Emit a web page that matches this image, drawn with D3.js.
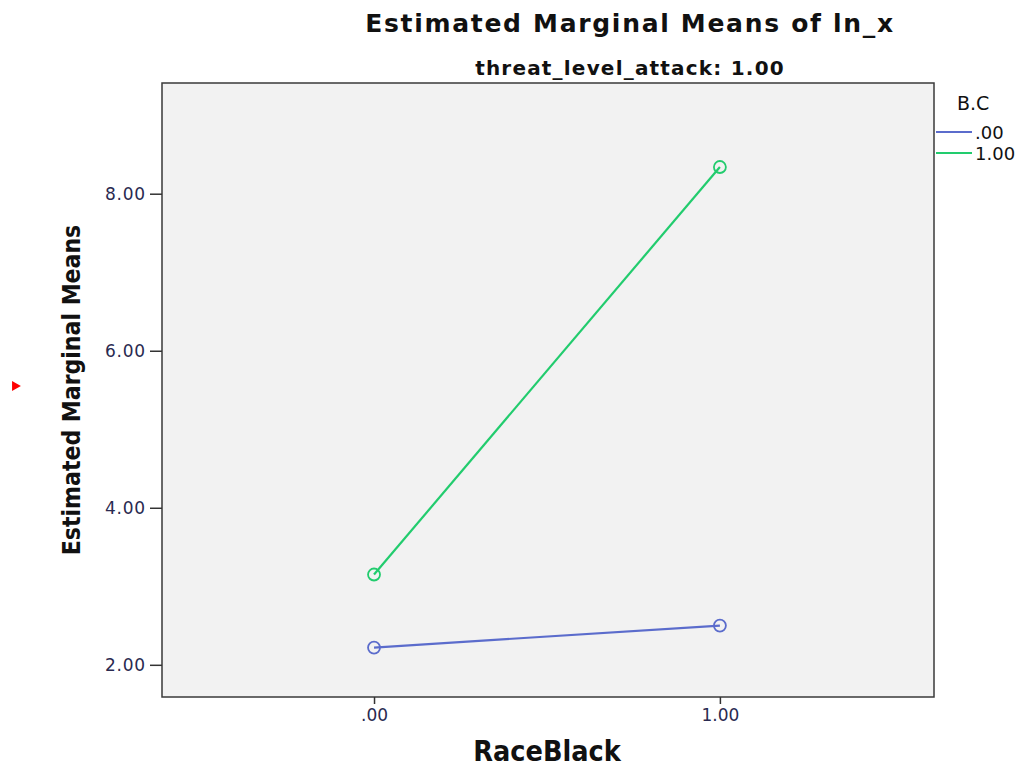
<!DOCTYPE html>
<html lang="en">
<head>
<meta charset="UTF-8">
<title>Estimated Marginal Means of ln_x</title>
<script src="https://d3js.org/d3.v7.min.js"></script>
<style>
  body { margin: 0; background: #fff; }
  .title { font-family: "DejaVu Sans", sans-serif; font-weight: bold; fill: #111; }
  .axlabel { font-family: "DejaVu Sans Condensed", "DejaVu Sans", sans-serif; font-weight: bold; fill: #111; }
  .tick text { font-family: "DejaVu Sans", sans-serif; font-size: 17px; fill: #2a2a50; letter-spacing: 0.8px; }
  .legend text { font-family: "DejaVu Sans", sans-serif; fill: #111; }
</style>
</head>
<body>
<script>
// data
var raceBlack = [0, 1];
var xTickLabels = [".00", "1.00"];
var yTicks = [2, 4, 6, 8];
var yTickLabels = ["2.00", "4.00", "6.00", "8.00"];
var groups = [".00", "1.00"];
var meansBC0 = [2.22, 2.50];
var meansBC1 = [3.15, 8.34];
var colors = ["#5b6ccc", "#22cc6e"];

var width = 1028, height = 767;
var plot = { left: 162, right: 934, top: 83, bottom: 697 };

var svg = d3.select("body").append("svg")
    .attr("width", width)
    .attr("height", height);

var x = d3.scaleLinear().domain([-0.613, 1.619]).range([plot.left, plot.right]);
var y = d3.scaleLinear().domain([1.59, 9.41]).range([plot.bottom, plot.top]);

// plot background
svg.append("rect")
    .attr("x", plot.left).attr("y", plot.top)
    .attr("width", plot.right - plot.left).attr("height", plot.bottom - plot.top)
    .attr("fill", "#f2f2f2")
    .attr("stroke", "#3a3a3a")
    .attr("stroke-width", 1.5);

// axes
var yAxis = d3.axisLeft(y).tickValues(yTicks)
    .tickFormat(function(d, i) { return yTickLabels[i]; })
    .tickSize(12).tickPadding(4);
svg.append("g").attr("transform", "translate(" + plot.left + ",0)").call(yAxis)
    .call(function(g) { g.select(".domain").remove(); })
    .call(function(g) { g.selectAll("line").attr("stroke", "#333").attr("stroke-width", 1.5); });

var xAxis = d3.axisBottom(x).tickValues(raceBlack)
    .tickFormat(function(d, i) { return xTickLabels[i]; })
    .tickSize(7).tickPadding(5);
svg.append("g").attr("transform", "translate(0," + plot.bottom + ")").call(xAxis)
    .call(function(g) { g.select(".domain").remove(); })
    .call(function(g) { g.selectAll("line").attr("stroke", "#333").attr("stroke-width", 1.5); })
    .call(function(g) { g.selectAll("text").attr("fill", "#1a1a3a").style("letter-spacing", "0px"); });

// lines
var series = [meansBC0, meansBC1];
var line = d3.line()
    .x(function(d, i) { return x(raceBlack[i]); })
    .y(function(d) { return y(d); });

series.forEach(function(vals, s) {
    svg.append("path")
        .datum(vals)
        .attr("d", line)
        .attr("fill", "none")
        .attr("stroke", colors[s])
        .attr("stroke-width", 2.2);
    svg.selectAll(".pt" + s)
        .data(vals)
        .enter().append("circle")
        .attr("cx", function(d, i) { return x(raceBlack[i]); })
        .attr("cy", function(d) { return y(d); })
        .attr("r", 6)
        .attr("fill", "none")
        .attr("stroke", colors[s])
        .attr("stroke-width", 1.8);
});

// titles
svg.append("text").attr("class", "title")
    .attr("x", 630).attr("y", 32)
    .attr("text-anchor", "middle")
    .style("font-size", "25px")
    .style("letter-spacing", "1.7px")
    .text("Estimated Marginal Means of ln_x");
svg.append("text").attr("class", "title")
    .attr("x", 630).attr("y", 75)
    .attr("text-anchor", "middle")
    .style("font-size", "20px")
    .style("letter-spacing", "1.2px")
    .text("threat_level_attack: 1.00");
svg.append("text").attr("class", "axlabel")
    .attr("x", 547).attr("y", 761)
    .attr("text-anchor", "middle")
    .style("font-size", "28.5px")
    .text("RaceBlack");
svg.append("text").attr("class", "axlabel")
    .attr("transform", "translate(80," + 390 + ") rotate(-90)")
    .attr("text-anchor", "middle")
    .style("font-size", "24.5px")
    .text("Estimated Marginal Means");

// legend
var legend = svg.append("g").attr("class", "legend");
legend.append("text")
    .attr("x", 957).attr("y", 110)
    .style("font-size", "19px")
    .text("B.C");
groups.forEach(function(g, i) {
    var ly = 132 + i * 21;
    legend.append("line")
        .attr("x1", 936).attr("x2", 972)
        .attr("y1", ly).attr("y2", ly)
        .attr("stroke", colors[i]).attr("stroke-width", 2);
    legend.append("text")
        .attr("x", 975).attr("y", ly + 7)
        .style("font-size", "18px")
        .text(g);
});

// small red marker at left edge
svg.append("path")
    .attr("d", d3.symbol().type(d3.symbolTriangle).size(45)())
    .attr("transform", "translate(15,386) rotate(90)")
    .attr("fill", "#ff0000");
</script>
</body>
</html>
